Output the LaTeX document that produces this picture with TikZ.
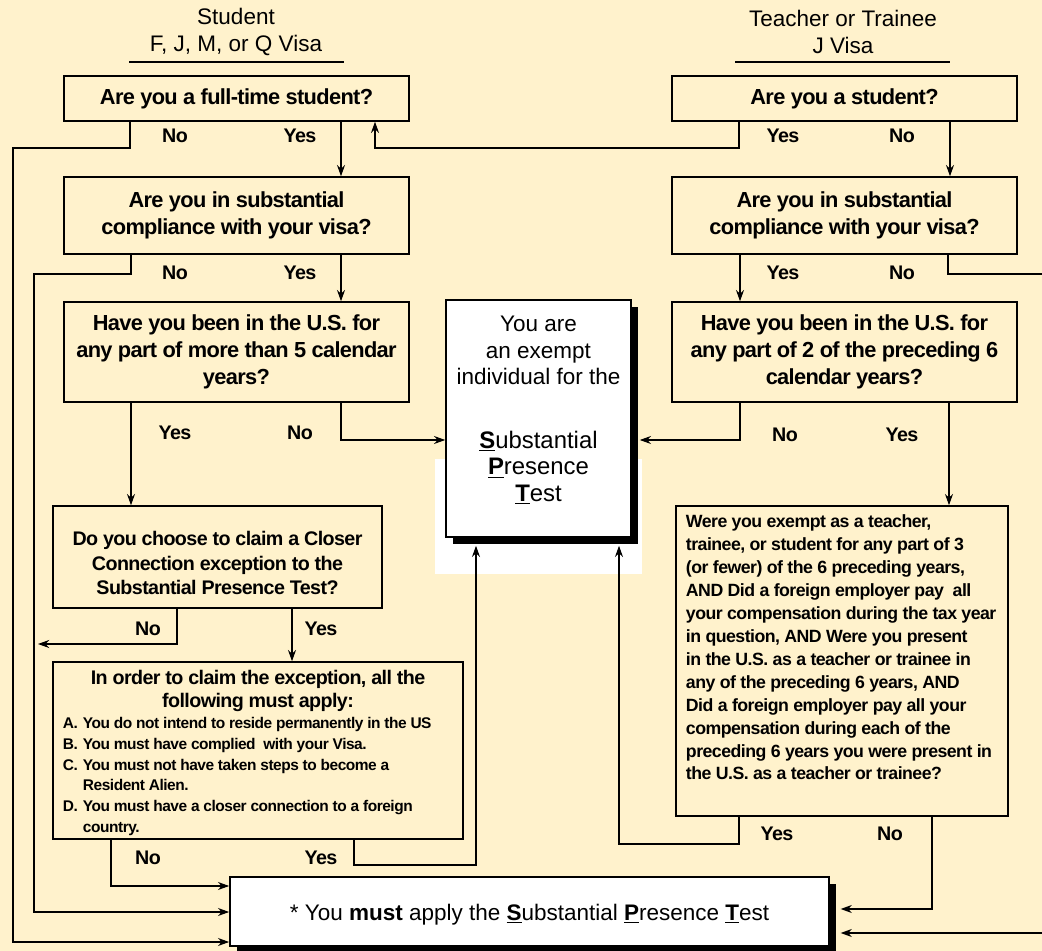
\documentclass[tikz,border=0pt]{standalone}
\usepackage{fontspec}
\setmainfont{Liberation Sans}
\newfontfamily\qfont{Liberation Sans}[LetterSpace=-3]
\usetikzlibrary{positioning,arrows.meta,shadows}
\definecolor{cream}{RGB}{255,242,204}

\begin{document}
\begin{tikzpicture}[%
		x=0.025cm, y=-0.025cm,
		->,
		>={Stealth[length=0.28cm,width=0.2cm]},
		line width=0.8pt,
		question/.style={%
			draw,
			fill=cream,
			line width=1.1pt,
			align=center,
			inner sep=0pt,
			font=\qfont\bfseries\fontsize{15.5}{19}\selectfont
		},
		answer/.style={font=\qfont\bfseries\fontsize{14}{16}\selectfont},
		heading/.style={align=center, font=\fontsize{16}{19}\selectfont},
		result/.style={%
			draw,
			fill=white,
			line width=1.1pt,
			align=center,
			general shadow={fill=black, shadow xshift=0.18cm, shadow yshift=-0.18cm}
		}
		]
		\path[use as bounding box, fill=cream] (0,0) rectangle (1042,951);
		
		% headings
		\node[heading] (hs) at (236,32) {Student\\F, J, M, or Q Visa};
		\node[heading] (ht) at (843,32) {Teacher or Trainee\\J Visa};
		\draw[-, line width=1.1pt] (129,62) -- (344,62);
		\draw[-, line width=1.1pt] (735,62) -- (950,62);
		
		% student side
		\node[question, minimum width=8.625cm, minimum height=1.125cm] (s1) at (236.5,98.5) {Are you a full-time student?};
		\node[question, minimum width=8.625cm, minimum height=1.925cm] (s2) at (236.5,215.5) {Are you in substantial\\compliance with your visa?};
		\node[question, minimum width=8.625cm, minimum height=2.5cm] (s3) at (236.5,352) {Have you been in the U.S. for\\any part of more than 5 calendar\\years?};
		\node[question, minimum width=8.225cm, minimum height=2.55cm, font=\qfont\bfseries\fontsize{14}{17.4}\selectfont] (s4) at (217.5,557) {\parbox{8cm}{\vspace{0.3cm}\centering Do you choose to claim a Closer\\Connection exception to the\\Substantial Presence Test?}};
		\node[question, minimum width=10.25cm, minimum height=4.425cm, align=left] (s5) at (258,750.5) {\parbox[c][4.025cm][t]{9.75cm}{%
				{\centering\fontsize{14}{16.3}\selectfont In order to claim the exception, all the\\following must apply:\par}
				\fontsize{11}{14.9}\selectfont
				\hangindent=0.5cm\hangafter=1\makebox[0.5cm][l]{A.}You do not intend to reside permanently in the US\par
				\hangindent=0.5cm\hangafter=1\makebox[0.5cm][l]{B.}You must have complied\ \ with your Visa.\par
				\hangindent=0.5cm\hangafter=1\makebox[0.5cm][l]{C.}You must not have taken steps to become a\\Resident Alien.\par
				\hangindent=0.5cm\hangafter=1\makebox[0.5cm][l]{D.}You must have a closer connection to a foreign\\country.\par}};
		
		% teacher side
		\node[question, minimum width=8.625cm, minimum height=1.125cm] (t1) at (844.5,98.5) {Are you a student?};
		\node[question, minimum width=8.625cm, minimum height=1.925cm] (t2) at (844.5,215.5) {Are you in substantial\\compliance with your visa?};
		\node[question, minimum width=8.625cm, minimum height=2.5cm] (t3) at (844.5,352) {Have you been in the U.S. for\\any part of 2 of the preceding 6\\calendar years?};
		\node[question, minimum width=8.3cm, minimum height=7.75cm, align=left] (t4) at (842,661) {\parbox[c][7.3cm][t]{7.8cm}{\raggedright\fontsize{12.6}{16.3}\selectfont
				Were you exempt as a teacher,\\
				trainee, or student for any part of 3\\
				(or fewer) of the 6 preceding years,\\
				AND Did a foreign employer pay\ \ all\\
				your compensation during the tax year\\
				in question, AND Were you present\\
				in the U.S. as a teacher or trainee in\\
				any of the preceding 6 years, AND\\
				Did a foreign employer pay all your\\
				compensation during each of the\\
				preceding 6 years you were present in\\
				the U.S. as a teacher or trainee?}};
		
		% results
		\fill[white] (435,459) rectangle (642,574);
		\node[result, minimum width=4.625cm, minimum height=5.925cm, inner sep=0pt] (ex) at (538.5,418.5) {\parbox[c][5.125cm][t]{4.5cm}{\centering\fontsize{16}{19}\selectfont
				You are\\an exempt\\individual for the\\[26pt]
				\fontsize{17}{19}\selectfont\underline{\textbf{S}}ubstantial\\\underline{\textbf{P}}resence\\\underline{\textbf{T}}est}};
		\node[result, minimum width=14.975cm, minimum height=1.725cm, font=\fontsize{16}{19}\selectfont] (spt) at (529.5,911.5) {\parbox{14cm}{\vspace{0.15cm}\centering * You \textbf{must} apply the \underline{\textbf{S}}ubstantial \underline{\textbf{P}}resence \underline{\textbf{T}}est}};
		
		% answers
		\node[answer] (a1) at (175,136) {No};
		\node[answer] (a2) at (300,136) {Yes};
		\node[answer] (a3) at (783,136) {Yes};
		\node[answer] (a4) at (902,136) {No};
		\node[answer] (a5) at (175,273) {No};
		\node[answer] (a6) at (300,273) {Yes};
		\node[answer] (a7) at (783,273) {Yes};
		\node[answer] (a8) at (902,273) {No};
		\node[answer] (a9) at (175,433) {Yes};
		\node[answer] (a10) at (300,433) {No};
		\node[answer] (a11) at (785,435) {No};
		\node[answer] (a12) at (902,435) {Yes};
		\node[answer] (a13) at (148,629) {No};
		\node[answer] (a14) at (321,629) {Yes};
		\node[answer] (a15) at (148,858) {No};
		\node[answer] (a16) at (321,858) {Yes};
		\node[answer] (a17) at (777,834) {Yes};
		\node[answer] (a18) at (890,834) {No};
		
		% connectors
		\coordinate (s4no) at (38,644);
		\draw (s1.south -| 130,0) -- (130,148) -- (13,148) |- (spt.west |- 0,942);
		\draw (s1.south -| 341,0) -- (s2.north -| 341,0);
		\draw (s2.south -| 131,0) -- (131,274) -- (34,274) |- (spt.west |- 0,912);
		\draw (s2.south -| 341,0) -- (s3.north -| 341,0);
		\draw (s3.south -| 131,0) -- (s4.north -| 131,0);
		\draw (s3.south -| 341,0) |- (ex.west |- 0,440);
		\draw (s4.south -| 177,0) |- (s4no);
		\draw (s4.south -| 292,0) -- (s5.north -| 292,0);
		\draw (s5.south -| 111,0) |- (spt.west |- 0,886);
		\draw[shorten >=0.2cm] (s5.south -| 354,0) -- (354,865) -| (ex.south -| 476,0);
		\draw (t1.south -| 739,0) -- (739,148) -| (s1.south -| 375,0);
		\draw (t1.south -| 950,0) -- (t2.north -| 950,0);
		\draw (t2.south -| 740,0) -- (t3.north -| 740,0);
		\draw[shorten >=0.27cm] (t2.south -| 948,0) -- (948,274) -- (1060,274) |- (spt.east |- 0,933);
		\draw[shorten >=0.2cm] (t3.south -| 740,0) |- (ex.east |- 0,440);
		\draw (t3.south -| 949,0) -- (t4.north -| 949,0);
		\draw[shorten >=0.2cm] (t4.south -| 739,0) -- (739,844) -| (ex.south -| 619,0);
		\draw[shorten >=0.27cm] (t4.south -| 932,0) |- (spt.east |- 0,909);
		\end{tikzpicture}
\end{document}
